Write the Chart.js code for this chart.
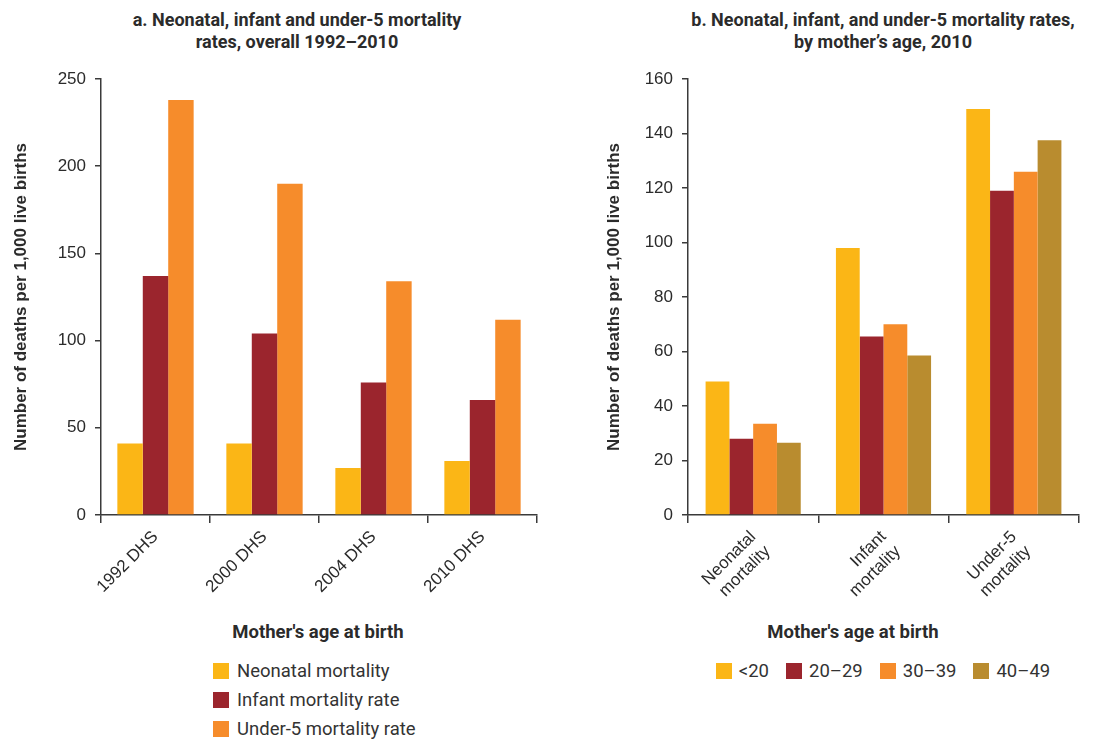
<!DOCTYPE html>
<html>
<head>
<meta charset="utf-8">
<script src="https://cdn.jsdelivr.net/npm/chart.js@4/dist/chart.umd.min.js"></script>
<style>
  html, body { margin: 0; padding: 0; background: #fff; width: 1102px; height: 740px; overflow: hidden; }
  .abs { position: absolute; }
  .title { font-family: Roboto, "Liberation Sans", sans-serif; font-weight: bold; font-size: 18px; line-height: 22px; color: #2b2b2b; text-align: center; white-space: nowrap; }
  .xtitle { font-family: Roboto, "Liberation Sans", sans-serif; font-weight: bold; font-size: 18.5px; line-height: 22px; color: #2b2b2b; text-align: center; white-space: nowrap; }
  .leg { font-family: Roboto, "Liberation Sans", sans-serif; font-size: 18.5px; color: #333; white-space: nowrap; }
  .leg .item { display: flex; align-items: center; }
  .leg .sw { width: 16px; height: 16px; margin-right: 8px; flex: none; }
  #legA .item { height: 29px; }
  #legB { display: flex; justify-content: center; }
  #legB .item { margin: 0 8.5px; }
  #legB .sw { margin-right: 7px; }
</style>
</head>
<body>
<div class="abs title" style="left:47px; top:9px; width:500px;">a. Neonatal, infant and under-5 mortality<br>rates, overall 1992–2010</div>
<div class="abs title" style="left:663px; top:9px; width:440px;">b. Neonatal, infant, and under-5 mortality rates,<br>by mother’s age, 2010</div>

<div class="abs" style="left:0; top:0; width:560px; height:620px;"><canvas id="cA" width="560" height="620"></canvas></div>
<div class="abs" style="left:590px; top:0; width:512px; height:620px;"><canvas id="cB" width="512" height="620"></canvas></div>

<div class="abs xtitle" style="left:218px; top:621px; width:200px;">Mother's age at birth</div>
<div class="abs xtitle" style="left:753px; top:621px; width:200px;">Mother's age at birth</div>

<div id="legA" class="abs leg" style="left:213px; top:656px;"></div>
<div id="legB" class="abs leg" style="left:663px; top:661px; width:440px; height:20px; line-height:20px;"></div>

<script>
// ---- Data: chart a ----
const categoriesA = ['1992 DHS', '2000 DHS', '2004 DHS', '2010 DHS'];
const neonatalA = [41, 41, 27, 31];
const infantA = [137, 104, 76, 66];
const under5A = [238, 190, 134, 112];
const seriesNamesA = ['Neonatal mortality', 'Infant mortality rate', 'Under-5 mortality rate'];
const yTicksA = [0, 50, 100, 150, 200, 250];

// ---- Data: chart b ----
const categoriesB = [['Neonatal', 'mortality'], ['Infant', 'mortality'], ['Under-5', 'mortality']];
const ageLt20 = [49, 98, 149];
const age20_29 = [28, 65.5, 119];
const age30_39 = [33.5, 70, 126];
const age40_49 = [26.5, 58.5, 137.5];
const seriesNamesB = ['<20', '20–29', '30–39', '40–49'];
const yTicksB = [0, 20, 40, 60, 80, 100, 120, 140, 160];

const yTitle = 'Number of deaths per 1,000 live births';

// ---- Styles ----
const YELLOW = '#FBB616', RED = '#9B252D', ORANGE = '#F68C2B', GOLD = '#B98C2F';
const colorsA = [YELLOW, RED, ORANGE];
const colorsB = [YELLOW, RED, ORANGE, GOLD];
const AXIS = '#3a3a3a';
const TICKFONT = { family: '"Liberation Sans", Arial, sans-serif', size: 17 };

function makeOptions(yTicks, yAxisWidth, padLeft, catPct) {
  const step = yTicks[1] - yTicks[0];
  return {
    responsive: false,
    animation: false,
    layout: { padding: { left: padLeft, right: 23, top: 79, bottom: 5 } },
    plugins: { legend: { display: false }, tooltip: { enabled: false }, title: { display: false } },
    datasets: { bar: { categoryPercentage: catPct, barPercentage: 1.0 } },
    scales: {
      x: {
        type: 'category',
        offset: true,
        grid: { display: true, drawOnChartArea: false, offset: true, tickLength: 8, color: AXIS, lineWidth: 1.5 },
        border: { display: true, color: AXIS, width: 1.5 },
        ticks: { color: '#2b2b2b', font: TICKFONT, maxRotation: 45, minRotation: 45, padding: 4, autoSkip: false },
        afterFit: (s) => { s.height = 100; }
      },
      y: {
        min: yTicks[0],
        max: yTicks[yTicks.length - 1],
        grid: { display: true, drawOnChartArea: false, tickLength: 6, color: AXIS, lineWidth: 1.5 },
        border: { display: true, color: AXIS, width: 1.5 },
        ticks: { stepSize: step, color: '#2b2b2b', font: TICKFONT, padding: 9 },
        title: {
          display: true, text: yTitle, color: '#2b2b2b',
          font: { family: '"Liberation Sans", Arial, sans-serif', size: 17, weight: 'bold' },
          padding: { top: 3, bottom: 0 }
        },
        afterFit: (s) => { s.width = yAxisWidth; }
      }
    }
  };
}

new Chart(document.getElementById('cA'), {
  type: 'bar',
  data: {
    labels: categoriesA,
    datasets: [
      { label: seriesNamesA[0], data: neonatalA, backgroundColor: colorsA[0] },
      { label: seriesNamesA[1], data: infantA, backgroundColor: colorsA[1] },
      { label: seriesNamesA[2], data: under5A, backgroundColor: colorsA[2] }
    ]
  },
  options: makeOptions(yTicksA, 93, 8, 0.70)
});

new Chart(document.getElementById('cB'), {
  type: 'bar',
  data: {
    labels: categoriesB,
    datasets: [
      { label: seriesNamesB[0], data: ageLt20, backgroundColor: colorsB[0] },
      { label: seriesNamesB[1], data: age20_29, backgroundColor: colorsB[1] },
      { label: seriesNamesB[2], data: age30_39, backgroundColor: colorsB[2] },
      { label: seriesNamesB[3], data: age40_49, backgroundColor: colorsB[3] }
    ]
  },
  options: makeOptions(yTicksB, 87, 11, 0.73)
});

// ---- HTML legends ----
function buildLegend(el, names, colors) {
  names.forEach((n, i) => {
    const it = document.createElement('div'); it.className = 'item';
    const sw = document.createElement('span'); sw.className = 'sw'; sw.style.background = colors[i];
    const tx = document.createElement('span'); tx.textContent = n;
    it.appendChild(sw); it.appendChild(tx); el.appendChild(it);
  });
}
buildLegend(document.getElementById('legA'), seriesNamesA, colorsA);
buildLegend(document.getElementById('legB'), seriesNamesB, colorsB);
</script>
</body>
</html>
